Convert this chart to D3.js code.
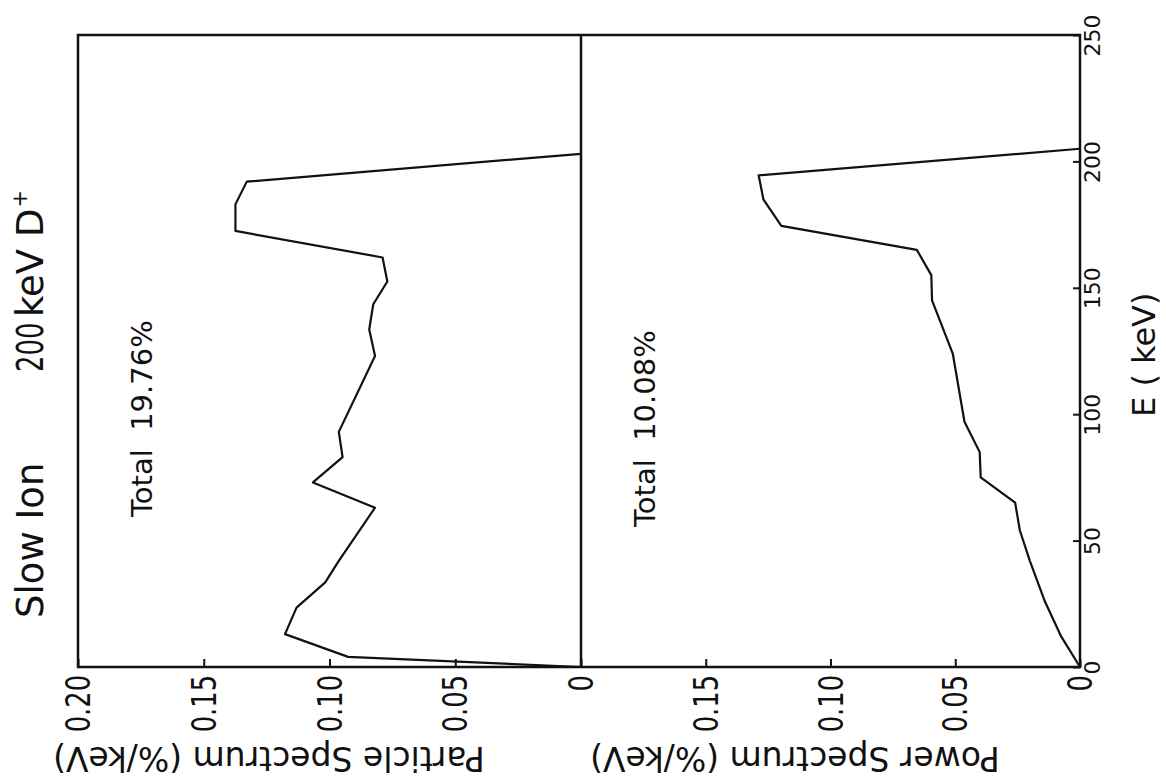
<!DOCTYPE html>
<html>
<head>
<meta charset="utf-8">
<script src="https://cdn.jsdelivr.net/npm/d3@7"></script>
<style>
body { margin: 0; background: #fff; }
text { font-family: "DejaVu Sans", sans-serif; fill: #111; }
</style>
</head>
<body>
<svg id="chart" width="1166" height="783"></svg>
<script>

// energy (keV) and particle spectrum (%/keV)
const particleEnergy = [0, 4, 13, 23.5, 33.5, 42, 63, 73, 83, 93, 123, 133.5, 143.5, 152.5, 162, 172.5, 183, 192, 203];
const particleValue  = [0, 0.0926, 0.1177, 0.1131, 0.1017, 0.0963, 0.0819, 0.1066, 0.0948, 0.0963, 0.0819, 0.0842, 0.0826, 0.0770, 0.0789, 0.1374, 0.1374, 0.1329, 0];

// energy (keV) and power spectrum (%/keV), lower panel
const powerEnergy = [0, 12, 26, 42, 54, 65, 75, 85, 97, 124, 145, 155, 165, 174.5, 185, 194.5, 205];
const powerValue  = [0, 0.0075, 0.0141, 0.0201, 0.0241, 0.0260, 0.0398, 0.0402, 0.0463, 0.0510, 0.0593, 0.0596, 0.0654, 0.1197, 0.1269, 0.1288, 0];

const energyTicks = [0, 50, 100, 150, 200, 250];
const particleTicks = [0.20, 0.15, 0.10, 0.05, 0];
const powerTicks = [0.15, 0.10, 0.05, 0];

const svg = d3.select("#chart");

// the figure is printed turned on its side: energy runs up the page
const yE = d3.scaleLinear().domain([0, 250]).range([667, 35]);
const xP = d3.scaleLinear().domain([0, 0.2]).range([581, 78]);
const xW = d3.scaleLinear().domain([0, 0.2]).range([1080, 581]);

const fmt = d => d === 0 ? "0" : d3.format(".2f")(d);

// frame + divider between the two panels
svg.append("rect")
	.attr("x", xP(0.2))
	.attr("y", yE(250))
	.attr("width", xW(0) - xP(0.2))
	.attr("height", yE(0) - yE(250))
	.attr("fill", "none")
	.attr("stroke", "#111")
	.attr("stroke-width", 2.5);

svg.append("line")
	.attr("x1", xP(0)).attr("x2", xP(0))
	.attr("y1", yE(250)).attr("y2", yE(0))
	.attr("stroke", "#111")
	.attr("stroke-width", 2.5);

// value axes along the E = 0 edge
function valueAxis(scale, ticks) {
	svg.append("g")
		.attr("transform", "translate(0," + yE(0) + ")")
		.call(d3.axisBottom(scale).tickValues(ticks).tickSize(-8).tickFormat(fmt))
		.call(g => g.select(".domain").remove())
		.call(g => g.selectAll(".tick line").attr("stroke", "#111").attr("stroke-width", 2))
		.call(g => g.selectAll(".tick text")
			.attr("y", 0)
			.attr("dy", "0.35em")
			.attr("text-anchor", "end")
			.attr("font-size", 33)
			.attr("transform", "translate(0,8) rotate(-90) scale(0.78,1)"));
}
valueAxis(xP, particleTicks);
valueAxis(xW, powerTicks);

// energy axis on the right edge
svg.append("g")
	.attr("transform", "translate(" + xW(0) + ",0)")
	.call(d3.axisRight(yE).tickValues(energyTicks).tickSize(-7))
	.call(g => g.select(".domain").remove())
	.call(g => g.selectAll(".tick line").attr("stroke", "#111").attr("stroke-width", 2))
	.call(g => g.selectAll(".tick text")
		.attr("x", 0)
		.attr("dy", 0)
		.attr("text-anchor", "middle")
		.attr("font-size", 22)
		.attr("transform", "translate(20,0) rotate(-90)"));

// curves
const pLine = d3.line().x(d => xP(d[1])).y(d => yE(d[0]));
const wLine = d3.line().x(d => xW(d[1])).y(d => yE(d[0]));

svg.append("path")
	.datum(d3.zip(particleEnergy, particleValue))
	.attr("d", pLine)
	.attr("fill", "none")
	.attr("stroke", "#111")
	.attr("stroke-width", 2.2)
	.attr("stroke-linejoin", "round");

svg.append("path")
	.datum(d3.zip(powerEnergy, powerValue))
	.attr("d", wLine)
	.attr("fill", "none")
	.attr("stroke", "#111")
	.attr("stroke-width", 2.2)
	.attr("stroke-linejoin", "round");

// texts
function label(str, x, y, rot, size, anchor) {
	return svg.append("text")
		.attr("transform", "translate(" + x + "," + y + ") rotate(" + rot + ")")
		.attr("font-size", size)
		.attr("text-anchor", anchor || "start")
		.style("white-space", "pre")
		.text(str);
}

label("Slow Ion", 43, 618, -90, 37);
svg.append("text")
	.attr("transform", "translate(43,372) rotate(-90) scale(0.7,1)")
	.attr("font-size", 37)
	.text("200");
const kev = label("keV D", 43, 317, -90, 37);
kev.append("tspan").attr("font-size", 21).attr("dy", "-0.75em").attr("dx", 1).text("+");

label("Total  19.76%", 152, 517, -90, 29);
label("Total  10.08%", 655, 527, -90, 29);

label("E ( keV)", 1155, 417, -90, 32);

label("Particle Spectrum (%/keV)", 53, 747, 180, 33, "end");
label("Power Spectrum (%/keV)", 590, 747, 180, 33, "end");

</script>
</body>
</html>
